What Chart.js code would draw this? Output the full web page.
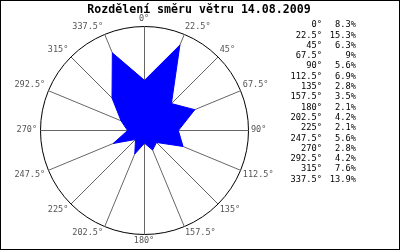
<!DOCTYPE html>
<html>
<head>
<meta charset="utf-8">
<script src="https://cdn.jsdelivr.net/npm/chart.js@4/dist/chart.umd.min.js"></script>
<style>
    body { margin: 0; background: #fff; }
    #wrap { width: 400px; height: 250px; border: 1px solid #000; box-sizing: border-box; }
    canvas { display: block; }
</style>
</head>
<body>
<div id="wrap"><canvas id="windRose" width="398" height="248"></canvas></div>
<script>
const chartTitle = 'Rozdělení směru větru 14.08.2009';
const directions = ['0°', '22.5°', '45°', '67.5°', '90°', '112.5°', '135°', '157.5°',
    '180°', '202.5°', '225°', '247.5°', '270°', '292.5°', '315°', '337.5°'];
const shares = [8.3, 15.3, 6.3, 9, 5.6, 6.9, 2.8, 3.5, 2.1, 4.2, 2.1, 5.6, 2.8, 4.2, 7.6, 13.9];
const shareLabels = ['8.3%', '15.3%', '6.3%', '9%', '5.6%', '6.9%', '2.8%', '3.5%',
    '2.1%', '4.2%', '2.1%', '5.6%', '2.8%', '4.2%', '7.6%', '13.9%'];
const scaleMax = 17.2;

const MONO = '"DejaVu Sans Mono", monospace';

// half pixel shift so the 1px scale lines stay crisp
const crispLines = {
    id: 'crispLines',
    beforeDraw(chart) {
        chart.ctx.save();
        chart.ctx.translate(0.5, 0.5);
    },
    afterDraw(chart) {
        chart.ctx.restore();
    }
};

// title, direction labels and the table on the right
const roseText = {
    id: 'roseText',
    afterDraw(chart) {
        const ctx = chart.ctx;
        const r = chart.scales.r;
        ctx.save();

        ctx.font = 'bold 11.6px ' + MONO;
        ctx.fillStyle = '#000';
        ctx.textAlign = 'center';
        ctx.textBaseline = 'alphabetic';
        ctx.fillText(chartTitle, 198, 11.7);

        ctx.font = '8.5px ' + MONO;
        ctx.fillStyle = '#555';
        directions.forEach(function (d, i) {
            const p = r.getPointPosition(i, r.drawingArea + 3);
            const a = i * 360 / directions.length;
            ctx.textAlign = (a === 0 || a === 180) ? 'center' : (a < 180 ? 'left' : 'right');
            if (a === 90 || a === 270) {
                ctx.textBaseline = 'middle';
            } else if (a < 90 || a > 270) {
                ctx.textBaseline = 'bottom';
            } else {
                ctx.textBaseline = 'top';
            }
            ctx.fillText(d, p.x, p.y);
        });

        ctx.font = '8.7px ' + MONO;
        ctx.fillStyle = '#000';
        ctx.textAlign = 'right';
        ctx.textBaseline = 'middle';
        directions.forEach(function (d, i) {
            const y = 24 + 10.3 * i;
            ctx.fillText(d, 321, y);
            ctx.fillText(shareLabels[i], 355, y);
        });
        ctx.restore();
    }
};

new Chart(document.getElementById('windRose').getContext('2d'), {
    type: 'radar',
    data: {
        labels: directions,
        datasets: [{
            data: shares,
            backgroundColor: '#0000ff',
            borderColor: '#0000ff',
            borderWidth: 1,
            pointRadius: 0,
            fill: true,
            tension: 0
        }]
    },
    options: {
        responsive: false,
        animation: false,
        layout: {
            padding: { left: 39, right: 151, top: 25, bottom: 15 }
        },
        plugins: {
            legend: { display: false },
            tooltip: { enabled: false },
            title: { display: false }
        },
        scales: {
            r: {
                min: 0,
                max: scaleMax,
                afterBuildTicks: function (scale) {
                    scale.ticks = [{ value: 0 }, { value: scaleMax }];
                },
                ticks: { display: false },
                pointLabels: { display: false },
                grid: { circular: true, color: '#000', lineWidth: 1 },
                angleLines: { color: '#666', lineWidth: 1 }
            }
        }
    },
    plugins: [crispLines, roseText]
});
</script>
</body>
</html>
